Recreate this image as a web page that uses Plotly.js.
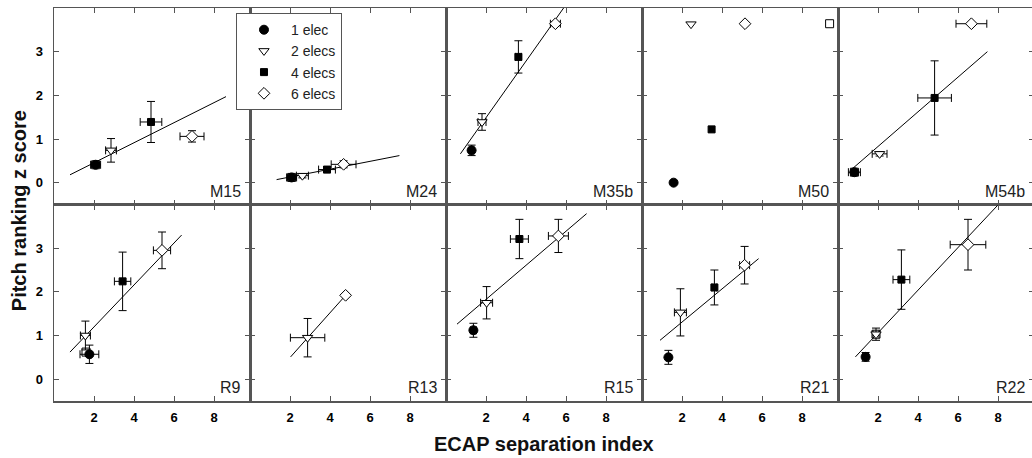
<!DOCTYPE html>
<html>
<head>
<meta charset="utf-8">
<script src="https://cdn.plot.ly/plotly-3.0.1.min.js"></script>
<style>
html, body { margin: 0; padding: 0; overflow: hidden; background: #fff; }
#chart { width: 1036px; height: 458px; }
</style>
</head>
<body>
<div id="chart"></div>
<script>
// ---------- DATA ----------
const panels = ['M15', 'M24', 'M35b', 'M50', 'M54b', 'R9', 'R13', 'R15', 'R21', 'R22'];
const seriesNames = ['1 elec', '2 elecs', '4 elecs', '6 elecs'];
const xTicks = [2, 4, 6, 8];
const yTicks = [0, 1, 2, 3];
const xTitle = 'ECAP separation index';
const yTitle = 'Pitch ranking z score';

// 1 elec
const e1X    = [2.08, 2.08, 1.28, 1.58, 0.82, 1.77, null, 1.37, 1.32, 1.38];
const e1Y    = [0.41, 0.12, 0.74, 0.00, 0.24, 0.57, null, 1.12, 0.50, 0.51];
const e1XErr = [0.25, 0.25, 0.12, 0,    0.30, 0.47, null, 0.15, 0.10, 0.15];
const e1YErr = [0.05, 0.05, 0.12, 0,    0.07, 0.21, null, 0.16, 0.16, 0.10];
// 2 elecs
const e2X    = [2.85, 2.62, 1.80, 2.45, 2.08, 1.57, 2.88, 2.03, 1.92, 1.90];
const e2Y    = [0.74, 0.16, 1.39, 3.63, 0.66, 1.00, 0.95, 1.75, 1.53, 1.03];
const e2XErr = [0.27, 0.30, 0.20, 0,    0.37, 0.25, 0.86, 0.30, 0.30, 0.15];
const e2YErr = [0.27, 0.05, 0.19, 0,    0.05, 0.33, 0.44, 0.37, 0.54, 0.14];
// 4 elecs
const e4X    = [4.85, 3.85, 3.62, 3.48, 4.83, 3.43, null, 3.67, 3.62, 3.17];
const e4Y    = [1.39, 0.30, 2.88, 1.22, 1.94, 2.24, null, 3.21, 2.10, 2.28];
const e4XErr = [0.54, 0.42, 0.15, 0,    0.84, 0.41, null, 0.45, 0.12, 0.42];
const e4YErr = [0.47, 0.07, 0.37, 0,    0.85, 0.67, null, 0.45, 0.40, 0.68];
// 6 elecs
const e6X    = [6.90, 4.68, 5.47, 5.15, 6.67, 5.40, 4.78, 5.62, 5.13, 6.50];
const e6Y    = [1.06, 0.42, 3.64, 3.64, 3.64, 2.95, 1.92, 3.28, 2.61, 3.08];
const e6XErr = [0.60, 0.62, 0.25, 0,    0.77, 0.43, 0,    0.50, 0.25, 0.89];
const e6YErr = [0.13, 0.08, 0.05, 0,    0,    0.42, 0,    0.38, 0.43, 0.58];
// extra open-square points (not in legend)
const sqX = [2.08, 2.08, null, 9.38, 0.82, 1.60, null, null, null, 1.90];
const sqY = [0.41, 0.12, null, 3.64, 0.24, 0.62, null, null, null, 1.03];
// regression lines (start / end)
const fitX0 = [0.80, 1.33, 0.72, null, 0.67, 0.80, 2.03, 0.55, 0.90, 0.87];
const fitY0 = [0.18, 0.07, 0.66, null, 0.30, 0.62, 0.51, 1.26, 0.89, 0.51];
const fitX1 = [8.60, 7.47, 5.88, null, 7.47, 6.38, 4.78, 7.03, 5.83, 7.98];
const fitY1 = [1.97, 0.62, 4.00, null, 3.00, 3.30, 1.92, 3.79, 2.76, 3.98];

// ---------- STYLE ----------
const FONT = 'Arial, "Liberation Sans", sans-serif';
const LINE_COL = '#555555';
const seriesStyle = [
  {symbol: 'circle', size: 9, color: '#000', line: {color: '#000', width: 1}},
  {symbol: 'triangle-down', size: 9, color: '#fff', line: {color: '#000', width: 1}},
  {symbol: 'square', size: 7, color: '#000', line: {color: '#000', width: 1}},
  {symbol: 'diamond', size: 9, color: '#fff', line: {color: '#000', width: 1}}
];
const sqStyle = {symbol: 'square-open', size: 8, color: '#000', line: {color: '#000', width: 1}};
const seriesData = [
  [e1X, e1Y, e1XErr, e1YErr],
  [e2X, e2Y, e2XErr, e2YErr],
  [e4X, e4Y, e4XErr, e4YErr],
  [e6X, e6Y, e6XErr, e6YErr]
];

const traces = [];
const layout = {
  width: 1036, height: 458,
  margin: {l: 54, r: 2, t: 8, b: 57},
  paper_bgcolor: '#fff', plot_bgcolor: '#fff',
  font: {family: FONT, color: '#000'},
  showlegend: true,
  legend: {
    x: 0.1857, y: 0.987, xanchor: 'left', yanchor: 'top',
    bgcolor: '#fff', bordercolor: '#555', borderwidth: 1,
    font: {family: FONT, size: 14, color: '#222'},
    itemwidth: 44, tracegroupgap: 0
  },
  annotations: [],
  shapes: []
};

panels.forEach((name, i) => {
  const n = i + 1;
  const xa = n === 1 ? 'x' : 'x' + n;
  const ya = n === 1 ? 'y' : 'y' + n;
  const col = i % 5, row = Math.floor(i / 5);
  const isBottom = row === 1, isLeft = col === 0;

  layout['xaxis' + (n === 1 ? '' : n)] = {
    domain: [col * 0.2, (col + 1) * 0.2],
    anchor: ya, range: [0, 9.8],
    tickmode: 'array', tickvals: xTicks, ticktext: xTicks.map(String),
    ticks: 'inside', ticklen: 5, tickwidth: 1, tickcolor: LINE_COL,
    showline: true, linecolor: LINE_COL, linewidth: 1.5, mirror: 'allticks',
    showgrid: false, zeroline: false,
    showticklabels: isBottom, ticklabelstandoff: 4,
    tickfont: {family: FONT, size: 13, color: '#000', weight: 'bold'},
    fixedrange: true
  };
  layout['yaxis' + (n === 1 ? '' : n)] = {
    domain: row === 0 ? [0.5, 1] : [0, 0.5],
    anchor: xa, range: [-0.5, 4.0],
    tickmode: 'array', tickvals: yTicks, ticktext: yTicks.map(String),
    ticks: 'inside', ticklen: 5, tickwidth: 1, tickcolor: LINE_COL,
    showline: true, linecolor: LINE_COL, linewidth: 1.5, mirror: 'allticks',
    showgrid: false, zeroline: false,
    showticklabels: isLeft, ticklabelstandoff: 7,
    tickfont: {family: FONT, size: 13, color: '#000', weight: 'bold'},
    fixedrange: true
  };

  // regression line
  if (fitX0[i] !== null) {
    traces.push({
      type: 'scatter', mode: 'lines', xaxis: xa, yaxis: ya,
      x: [fitX0[i], fitX1[i]], y: [fitY0[i], fitY1[i]],
      line: {color: '#000', width: 1}, showlegend: false, hoverinfo: 'skip'
    });
  }
  // extra open squares
  if (sqX[i] !== null) {
    traces.push({
      type: 'scatter', mode: 'markers', xaxis: xa, yaxis: ya,
      x: [sqX[i]], y: [sqY[i]], marker: sqStyle, showlegend: false, hoverinfo: 'skip'
    });
  }
  // series points
  seriesData.forEach((s, k) => {
    const [sx, sy, sxe, sye] = s;
    if (sx[i] === null) return;
    const t = {
      type: 'scatter', mode: 'markers', xaxis: xa, yaxis: ya,
      x: [sx[i]], y: [sy[i]], marker: seriesStyle[k],
      showlegend: false, hoverinfo: 'skip', cliponaxis: false
    };
    if (sxe[i]) t.error_x = {type: 'data', array: [sxe[i]], visible: true, color: '#000', thickness: 1, width: 4};
    if (sye[i]) t.error_y = {type: 'data', array: [sye[i]], visible: true, color: '#000', thickness: 1, width: 4};
    traces.push(t);
  });

  // panel label
  layout.annotations.push({
    xref: xa, yref: ya, x: 9.45, y: -0.5, xanchor: 'right', yanchor: 'bottom',
    text: name, showarrow: false, yshift: 3,
    font: {family: FONT, size: 16, color: '#222'}
  });
});

// legend-only traces
seriesNames.forEach((nm, k) => {
  traces.push({
    type: 'scatter', mode: 'markers', xaxis: 'x', yaxis: 'y',
    x: [null], y: [null], name: nm, marker: seriesStyle[k], showlegend: true
  });
});

// axis titles
layout.annotations.push({
  xref: 'paper', yref: 'paper', x: 0.5, y: -0.1094, xanchor: 'center', yanchor: 'middle',
  text: xTitle, showarrow: false,
  font: {family: FONT, size: 20, color: '#111', weight: 'bold'}
});
layout.annotations.push({
  xref: 'paper', yref: 'paper', x: -0.0357, y: 0.483, xanchor: 'center', yanchor: 'middle',
  text: yTitle, showarrow: false, textangle: -90,
  font: {family: FONT, size: 20, color: '#111', weight: 'bold'}
});

Plotly.newPlot('chart', traces, layout, {staticPlot: true, displayModeBar: false});
</script>
</body>
</html>
